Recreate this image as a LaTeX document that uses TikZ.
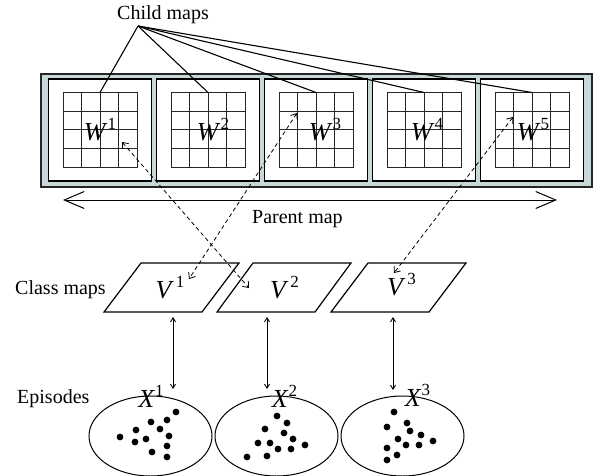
\documentclass[tikz,border=0pt]{standalone}
\usepackage{fontspec}
\setmainfont{Liberation Serif}
\usetikzlibrary{arrows.meta,calc,shapes.geometric}
\definecolor{bandfill}{HTML}{C8D7D7}
\newcommand{\suplbl}[2]{\fontsize{26}{26}\selectfont\itshape #1\/\upshape\raisebox{0.42em}{\fontsize{17}{17}\selectfont #2}}
\tikzset{
 txt/.style={font=\fontsize{20}{20}\selectfont, inner sep=0pt},
 lbl/.style={inner sep=0pt, anchor=base},
 band/.style={fill=bandfill, draw=black!85, line width=1.5pt, minimum width=551pt, minimum height=113pt, inner sep=0pt},
 mapbox/.style={draw=black, line width=1.5pt, fill=white, minimum width=103pt, minimum height=102pt, inner sep=0pt},
 gridbox/.style={draw=black!85, line width=1pt, minimum size=74pt, inner sep=0pt},
 gline/.style={draw=black!85, line width=1pt},
 cmap/.style={draw=black, line width=1.2pt, line join=miter},
 link/.style={line width=1.1pt},
 dasharrow/.style={dash pattern=on 4pt off 3pt, line width=0.8pt, {Straight Barb[length=5pt,width=8pt]}-{Straight Barb[length=5pt,width=8pt]}},
 vlink/.style={line width=0.9pt, {Straight Barb[length=4pt,width=5pt]}-{Straight Barb[length=4pt,width=5pt]}},
 parent/.style={line width=1pt, {Straight Barb[length=20pt,width=17pt]}-{Straight Barb[length=20pt,width=17pt]}},
 episode/.style={ellipse, draw=black, line width=1pt, minimum width=123pt, minimum height=80pt, inner sep=0pt},
 dot/.style={fill=black}
}
\begin{document}
\begin{tikzpicture}[x=1pt,y=-1pt]
\useasboundingbox (0,0) rectangle (594,476);
% parent band
\node[band] (band) at (316.5,130.5) {};
\foreach \k/\x in {1/100,2/208,3/316,4/424,5/532}{
  \node[mapbox] (b\k) at (\x,130) {};
  \node[gridbox] (g\k) at (\x,130) {};
  \foreach \i in {1,2,3}{
    \draw[gline] ($(g\k.north west)!\i/4!(g\k.north east)$) -- ($(g\k.south west)!\i/4!(g\k.south east)$);
    \draw[gline] ($(g\k.north west)!\i/4!(g\k.south west)$) -- ($(g\k.north east)!\i/4!(g\k.south east)$);
  }
}
% W labels
\node[lbl] (w1) at (100,140) {\suplbl{W}{1}};
\node[lbl] (w2) at (213,140) {\suplbl{W}{2}};
\node[lbl] (w3) at (325,140) {\suplbl{W}{3}};
\node[lbl] (w4) at (427,140) {\suplbl{W}{4}};
\node[lbl] (w5) at (533,140) {\suplbl{W}{5}};
% child maps
\node[txt, anchor=base west] (child) at (117,20) {Child maps};
\coordinate (cm) at (138,26);
\foreach \k in {1,...,5}{ \draw[link] (cm) -- (g\k.north); }
% parent map arrow
\coordinate (pl) at (63,200);
\coordinate (pr) at (557,200);
\draw[parent] (pl) -- (pr);
\node[txt, anchor=base west] (parentlbl) at (252,223) {Parent map};
% class maps
\node[txt, anchor=base west] (classlbl) at (15,294) {Class maps};
\draw[cmap] (104,312) -- (141,263) -- (239,263) -- (202,312) -- cycle;
\draw[cmap] (217,312) -- (253,263) -- (351,263) -- (315,312) -- cycle;
\draw[cmap] (331,312) -- (368,263) -- (466,263) -- (429,312) -- cycle;
\node[lbl] (v1) at (170,298) {\suplbl{V\,}{1}};
\node[lbl] (v2) at (284.5,298) {\suplbl{V\,}{2}};
\node[lbl] (v3) at (401.5,295) {\suplbl{V\,}{3}};
% episodes
\node[txt, anchor=base west] (epilbl) at (17,403) {Episodes};
\node[episode] (e1) at (150.5,436) {};
\node[episode] (e2) at (276.5,436) {};
\node[episode] (e3) at (402.5,436) {};
\node[lbl] (x1) at (151,407) {\suplbl{X}{1}};
\node[lbl] (x2) at (284.5,407) {\suplbl{X}{2}};
\node[lbl] (x3) at (417.5,406) {\suplbl{X}{3}};
% dots
\foreach \p in {(176,412),(167,420),(151,422),(160,429),(136,430),(169,436),(120,437),(135,442),(146,439),(167,446),(152,452),(167,457),
  (277,416),(287,423),(265,429),(284,433),(293,439),(258,443),(270,443),(305,445),(278,449),(291,449),(267,456),(247,457),
  (394,412),(407,423),(387,427),(410,431),(421,435),(398,439),(433,441),(406,445),(419,445),(387,448),(397,455),(387,460)}
  { \fill[dot] \p circle (3.4); }
% vertical links
\coordinate (c1t) at (173,317); \coordinate (c1b) at (173,389);
\coordinate (c2t) at (267,317); \coordinate (c2b) at (267,389);
\coordinate (c3t) at (393,317); \coordinate (c3b) at (393,390);
\draw[vlink] (c1t) -- (c1b);
\draw[vlink] (c2t) -- (c2b);
\draw[vlink] (c3t) -- (c3b);
% dashed links
\coordinate (dA1) at (122,142); \coordinate (dA2) at (249,288);
\coordinate (dB1) at (297,113); \coordinate (dB2) at (189,279);
\coordinate (dC1) at (513,117); \coordinate (dC2) at (394,273);
\draw[dasharrow] (dA1) -- (dA2);
\draw[dasharrow] (dB1) -- (dB2);
\draw[dasharrow] (dC1) -- (dC2);
\end{tikzpicture}
\end{document}
